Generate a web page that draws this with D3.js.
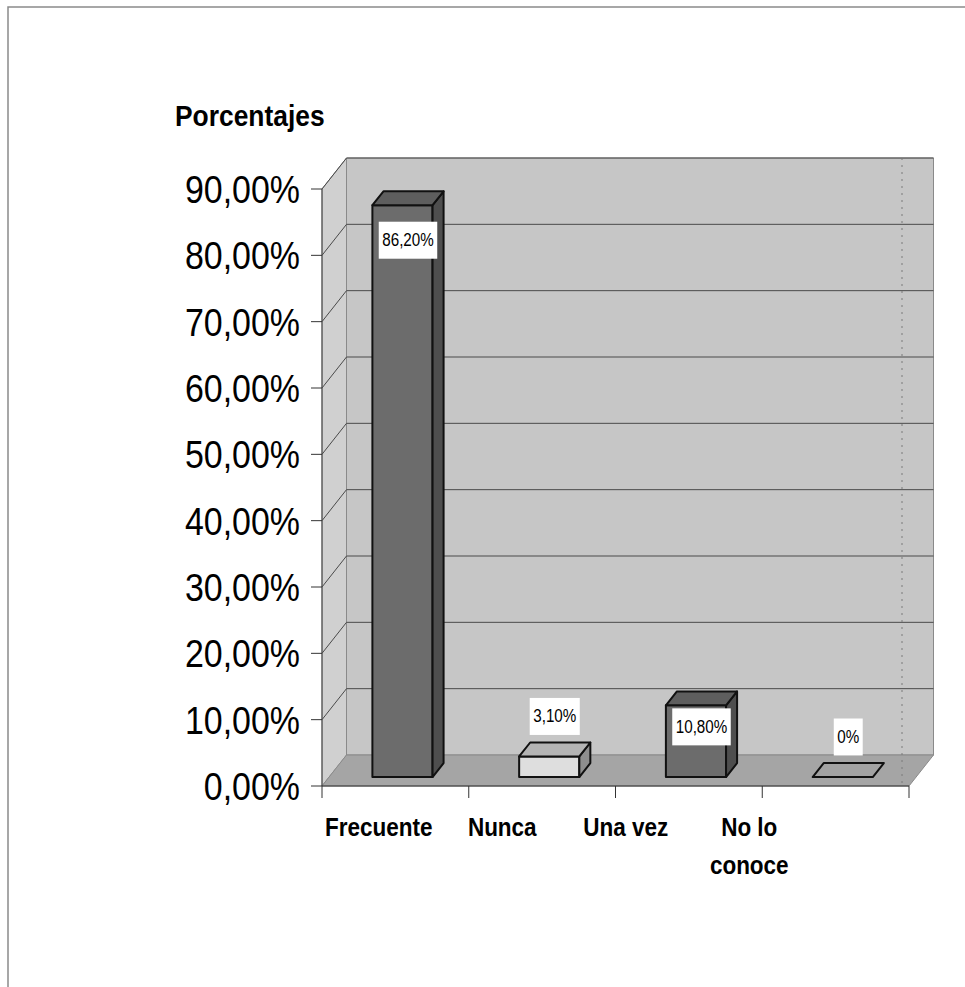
<!DOCTYPE html>
<html>
<head>
<meta charset="utf-8">
<script src="https://cdn.jsdelivr.net/npm/d3@7"></script>
<style>
  html, body { margin: 0; padding: 0; background: #ffffff; }
  svg { display: block; }
  text { font-family: "Liberation Sans", Arial, sans-serif; fill: #000; }
</style>
</head>
<body>
<svg id="chart" width="965" height="987"></svg>
<script>
// Survey responses, in percent
const categories = ["Frecuente", "Nunca", "Una vez", "No lo conoce"];
const values = [86.2, 3.1, 10.8, 0];
const valueLabels = ["86,20%", "3,10%", "10,80%", "0%"];
const yTicks = [0, 10, 20, 30, 40, 50, 60, 70, 80, 90];
const yTickLabels = ["0,00%", "10,00%", "20,00%", "30,00%", "40,00%", "50,00%", "60,00%", "70,00%", "80,00%", "90,00%"];
const axisTitle = "Porcentajes";

// Face shades for each category: [front, top, side]
const shades = [
  ["#6c6c6c", "#5e5e5e", "#4e4e4e"],
  ["#dedede", "#b4b4b4", "#8e8e8e"],
  ["#6c6c6c", "#5e5e5e", "#4e4e4e"],
  ["#a6a6a6", "#a2a2a2", "#8a8a8a"]
];

const svg = d3.select("#chart");

// Front plane of the 3D plot and its depth vector
const plotLeft = 322, plotRight = 909, plotBottom = 786, plotTop = 189;
const DX = 24.5, DY = -31;
const F0 = 0.29, F1 = 0.74;   // bar front / back depth fractions
const P = (x, y, f) => [x + f * DX, y + f * DY];
const poly = pts => "M" + pts.map(p => p.join(",")).join("L") + "Z";

const x = d3.scaleBand().domain(categories).range([plotLeft, plotRight]).paddingInner(0).paddingOuter(0);
const y = d3.scaleLinear().domain([0, 90]).range([plotBottom, plotTop]);
const xLabel = d3.scalePoint().domain(categories).range([317, 811]).padding(0.5);

// Outer frame (top and left edges)
svg.append("path").attr("d", "M8,987L8,7L965,7")
  .attr("fill", "none").attr("stroke", "#8a8a8a").attr("stroke-width", 1.5);

// Walls
const y0 = y(0), yMax = y(90);
svg.append("path") // left side wall
  .attr("d", poly([[plotLeft, y0], [plotLeft, yMax], P(plotLeft, yMax, 1), P(plotLeft, y0, 1)]))
  .attr("fill", "#d0d0d0").attr("stroke", "#8a8a8a").attr("stroke-width", 1);
svg.append("path") // back wall
  .attr("d", poly([P(plotLeft, y0, 1), P(plotLeft, yMax, 1), P(plotRight, yMax, 1), P(plotRight, y0, 1)]))
  .attr("fill", "#c6c6c6").attr("stroke", "#8a8a8a").attr("stroke-width", 1);
svg.append("path") // floor
  .attr("d", poly([[plotLeft, y0], [plotRight, y0], P(plotRight, y0, 1), P(plotLeft, y0, 1)]))
  .attr("fill", "#a5a5a5").attr("stroke", "#8a8a8a").attr("stroke-width", 1);

// Gridlines on the side and back walls
const grid = svg.append("g").attr("stroke", "#4a4a4a").attr("stroke-width", 1).attr("fill", "none");
yTicks.filter(t => t > 0).forEach(t => {
  const yy = y(t);
  grid.append("path").attr("d", "M" + [plotLeft, yy] + "L" + P(plotLeft, yy, 1) + "L" + P(plotRight, yy, 1));
});

// Faint dotted guide near the right of the back wall
svg.append("line")
  .attr("x1", 902).attr("x2", 902).attr("y1", P(0, yMax, 1)[1]).attr("y2", y0 - 3)
  .attr("stroke", "#7a7a7a").attr("stroke-width", 1).attr("stroke-dasharray", "2,5");

// Bars
const bw = x.bandwidth() * 0.41;
const bars = svg.append("g").attr("stroke", "#111").attr("stroke-width", 2).attr("stroke-linejoin", "round");
categories.forEach((c, i) => {
  const x0 = x(c) + (x.bandwidth() - bw) / 2, x1 = x0 + bw;
  const yb = y(0), yt = y(values[i]);
  const [front, topC, side] = shades[i];
  const g = bars.append("g");
  if (values[i] > 0) {
    g.append("path").attr("d", poly([P(x0, yb, F0), P(x1, yb, F0), P(x1, yt, F0), P(x0, yt, F0)])).attr("fill", front);
    g.append("path").attr("d", poly([P(x1, yb, F0), P(x1, yt, F0), P(x1, yt, F1), P(x1, yb, F1)])).attr("fill", side);
  }
  g.append("path").attr("d", poly([P(x0, yt, F0), P(x1, yt, F0), P(x1, yt, F1), P(x0, yt, F1)])).attr("fill", topC);
});

// Value labels in white boxes
const labels = svg.append("g");
categories.forEach((c, i) => {
  const cx = x(c) + x.bandwidth() / 2 + ((F0 + F1) / 2) * DX;
  const yt = P(0, y(values[i]), F0)[1];
  const h = P(0, y(0), F0)[1] - yt;
  const cy = values[i] > 5 ? yt + Math.min(35, h * 0.3) : yt - 40;
  const g = labels.append("g").attr("transform", `translate(${cx},${cy})`);
  const t = g.append("text")
    .attr("text-anchor", "middle").attr("y", 6)
    .attr("font-size", 19)
    .attr("transform", "scale(0.8,1)")
    .text(valueLabels[i]);
  const w = t.node().getComputedTextLength() * 0.8 + 7;
  g.insert("rect", "text").attr("x", -w / 2).attr("y", -18.5).attr("width", w).attr("height", 37).attr("fill", "#ffffff");
});

// Value axis: ticks and labels
const yAxis = svg.append("g");
yAxis.append("line").attr("x1", plotLeft).attr("x2", plotLeft).attr("y1", y(0)).attr("y2", y(90)).attr("stroke", "#444").attr("stroke-width", 1);
yTicks.forEach((t, i) => {
  yAxis.append("line").attr("x1", plotLeft - 11).attr("x2", plotLeft).attr("y1", y(t)).attr("y2", y(t)).attr("stroke", "#333").attr("stroke-width", 1);
  yAxis.append("text")
    .attr("transform", `translate(300,${y(t) + 14}) scale(0.87,1)`)
    .attr("text-anchor", "end").attr("font-size", 39)
    .text(yTickLabels[i]);
});

// Category axis: baseline, ticks and labels
const xAxis = svg.append("g");
xAxis.append("line").attr("x1", plotLeft).attr("x2", plotRight).attr("y1", y(0)).attr("y2", y(0)).attr("stroke", "#333").attr("stroke-width", 1);
categories.concat([null]).forEach(c => {
  const xx = c === null ? plotRight : x(c);
  xAxis.append("line").attr("x1", xx).attr("x2", xx).attr("y1", y(0)).attr("y2", y(0) + 12).attr("stroke", "#333").attr("stroke-width", 1);
});
const catLines = c => c === "No lo conoce" ? ["No lo", "conoce"] : [c];
categories.forEach(c => {
  catLines(c).forEach((line, j) => {
    xAxis.append("text")
      .attr("transform", `translate(${xLabel(c)},${836 + j * 38}) scale(0.9,1)`)
      .attr("text-anchor", "middle").attr("font-size", 25).attr("font-weight", "bold")
      .text(line);
  });
});

// Axis title
svg.append("text")
  .attr("transform", "translate(175,126) scale(0.91,1)")
  .attr("font-size", 29).attr("font-weight", "bold")
  .text(axisTitle);
</script>
</body>
</html>
